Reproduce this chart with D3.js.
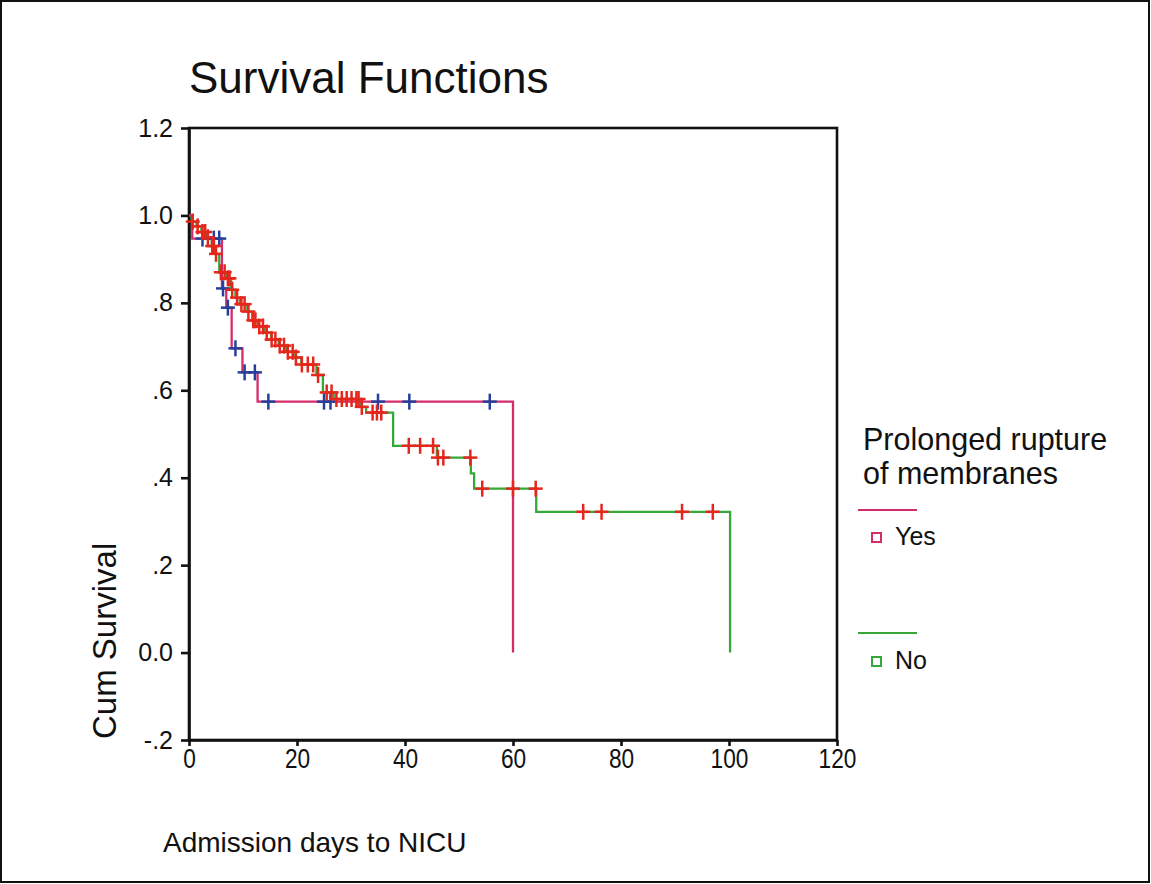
<!DOCTYPE html>
<html>
<head>
<meta charset="utf-8">
<script src="https://cdn.jsdelivr.net/npm/d3@7"></script>
<style>
  html, body { margin: 0; padding: 0; background: #fff; }
  svg { display: block; font-family: "Liberation Sans", Arial, sans-serif; }
</style>
</head>
<body>
<svg id="chart" width="1151" height="884"></svg>
<script>
// Kaplan-Meier survival by prolonged rupture of membranes

// Group "Yes": event times and survival after each step
const yesTimes = [0, 0.6, 6.1, 6.9, 7.9, 9.9, 12.7, 60.0];
const yesSurv  = [1.0, 0.947, 0.833, 0.789, 0.696, 0.641, 0.574, 0.0];
// Group "Yes": censored times
const yesCensored = [2.5, 4.6, 5.6, 6.3, 7.2, 8.6, 10.3, 12.2, 14.7, 25.0, 26.2, 35.0, 40.8, 55.7];

// Group "No": event times and survival after each step
const noTimes = [0, 0.5, 1.4, 2.3, 3.3, 4.2, 4.8, 5.6, 7.0, 7.8, 8.6, 9.4, 10.8, 11.7, 12.7, 14.0,
                 15.2, 16.6, 18.0, 19.4, 20.8, 23.6, 24.8, 26.8, 31.8, 32.8, 37.8, 45.9, 52.2, 52.8, 64.3, 100.2];
const noSurv  = [1.0, 0.986, 0.975, 0.962, 0.950, 0.930, 0.912, 0.870, 0.856, 0.830, 0.812, 0.797, 0.780, 0.760, 0.746, 0.732,
                 0.716, 0.702, 0.688, 0.675, 0.659, 0.635, 0.595, 0.580, 0.562, 0.549, 0.473, 0.446, 0.410, 0.375, 0.322, 0.0];
// Group "No": censored times
const noCensored = [0.7, 1.6, 2.5, 3.0, 3.5, 4.3, 4.6, 5.0, 5.9, 6.6, 7.2, 7.5, 8.0, 8.9, 9.7, 10.3, 11.0, 11.9, 12.3,
                    13.0, 13.7, 14.4, 15.3, 16.0, 16.8, 17.6, 18.3, 19.2, 19.8, 20.9, 22.0, 23.0, 23.9, 25.5, 26.4,
                    27.3, 28.3, 29.2, 30.1, 31.0, 31.4, 32.0, 34.0, 34.8, 35.6, 40.7, 42.8, 45.2, 46.1, 47.1,
                    52.1, 54.3, 60.0, 64.2, 73.0, 76.4, 91.3, 97.0];

const groupLabels = ["Yes", "No"];
const xTicks = [0, 20, 40, 60, 80, 100, 120];
const yTicks = [-0.2, 0.0, 0.2, 0.4, 0.6, 0.8, 1.0, 1.2];
const yTickLabels = ["-.2", "0.0", ".2", ".4", ".6", ".8", "1.0", "1.2"];

const colors = { yesLine: "#d52d6c", noLine: "#36a83a", yesMark: "#24409c", noMark: "#e5261d" };

const svg = d3.select("#chart");

// outer border of the figure
svg.append("rect").attr("x", 1).attr("y", 1).attr("width", 1148).attr("height", 881)
  .attr("fill", "none").attr("stroke", "#111").attr("stroke-width", 2);

const x = d3.scaleLinear().domain([0, 120]).range([189, 837]);
const y = d3.scaleLinear().domain([-0.2, 1.2]).range([740, 128]);

// title
svg.append("text").attr("x", 189).attr("y", 93).attr("font-size", 44).attr("fill", "#111")
  .text("Survival Functions");

// plot frame
svg.append("rect").attr("x", x(0)).attr("y", y(1.2)).attr("width", x(120) - x(0)).attr("height", y(-0.2) - y(1.2))
  .attr("fill", "none").attr("stroke", "#111").attr("stroke-width", 2.6);

// axes
const xAxis = d3.axisBottom(x).tickValues(xTicks).tickSize(6).tickSizeOuter(0).tickPadding(3)
  .tickFormat(d3.format("d"));
const gx = svg.append("g").attr("transform", `translate(0,${y(-0.2)})`).call(xAxis);
const yAxis = d3.axisLeft(y).tickValues(yTicks).tickSize(8).tickSizeOuter(0).tickPadding(8)
  .tickFormat((d, i) => yTickLabels[i]);
const gy = svg.append("g").attr("transform", `translate(${x(0)},0)`).call(yAxis);
[gx, gy].forEach(g => {
  g.select(".domain").attr("stroke", "#111").attr("stroke-width", 2.6);
  g.selectAll(".tick line").attr("stroke", "#111").attr("stroke-width", 2.6);
  g.selectAll(".tick text").attr("fill", "#111")
    .attr("font-family", "'Liberation Sans', Arial, sans-serif");
});
gy.selectAll(".tick text").attr("font-size", 25);
// x tick labels use a condensed face
gx.selectAll(".tick text").attr("font-size", 27).attr("transform", "scale(0.84,1)");

// axis titles
svg.append("text").attr("x", 163).attr("y", 852).attr("font-size", 28).attr("fill", "#111")
  .text("Admission days to NICU");
svg.append("text").attr("transform", `translate(116,${y(-0.2) - 1}) rotate(-90)`)
  .attr("font-size", 33).attr("fill", "#111").text("Cum Survival");

// survival curves
const stepLine = d3.line().x(d => x(d[0])).y(d => y(d[1])).curve(d3.curveStepAfter);
function survAt(times, surv, t) {
  let s = surv[0];
  for (let i = 0; i < times.length; i++) if (times[i] <= t) s = surv[i];
  return s;
}

const groups = [
  { times: noTimes, surv: noSurv, censored: noCensored, line: colors.noLine, mark: colors.noMark },
  { times: yesTimes, surv: yesSurv, censored: yesCensored, line: colors.yesLine, mark: colors.yesMark }
];

groups.forEach(g => {
  svg.append("path").datum(g.times.map((t, i) => [t, g.surv[i]]))
    .attr("d", stepLine).attr("fill", "none").attr("stroke", g.line).attr("stroke-width", 2.3);
});

// censor marks, blue first so red sits on top
[groups[1], groups[0]].forEach(g => {
  const marks = svg.append("g").attr("stroke", g.mark).attr("stroke-width", 2.5);
  g.censored.forEach(t => {
    const cx = x(t), cy = y(survAt(g.times, g.surv, t));
    marks.append("line").attr("x1", cx - 7).attr("x2", cx + 7).attr("y1", cy).attr("y2", cy);
    marks.append("line").attr("x1", cx).attr("x2", cx).attr("y1", cy - 8).attr("y2", cy + 8);
  });
});

// legend
const legend = svg.append("g").attr("fill", "#111");
legend.append("text").attr("x", 863).attr("y", 450).attr("font-size", 30.5).text("Prolonged rupture");
legend.append("text").attr("x", 863).attr("y", 484).attr("font-size", 30.5).text("of membranes");
const legendItems = [
  { label: groupLabels[0], color: colors.yesLine, ly: 510, ty: 545 },
  { label: groupLabels[1], color: colors.noLine, ly: 633, ty: 669 }
];
legendItems.forEach(it => {
  legend.append("line").attr("x1", 858).attr("x2", 917).attr("y1", it.ly).attr("y2", it.ly)
    .attr("stroke", it.color).attr("stroke-width", 2);
  legend.append("rect").attr("x", 872).attr("y", it.ty - 12).attr("width", 9).attr("height", 9)
    .attr("fill", "none").attr("stroke", it.color).attr("stroke-width", 2);
  legend.append("text").attr("x", 895).attr("y", it.ty).attr("font-size", 25).text(it.label);
});
</script>
</body>
</html>
